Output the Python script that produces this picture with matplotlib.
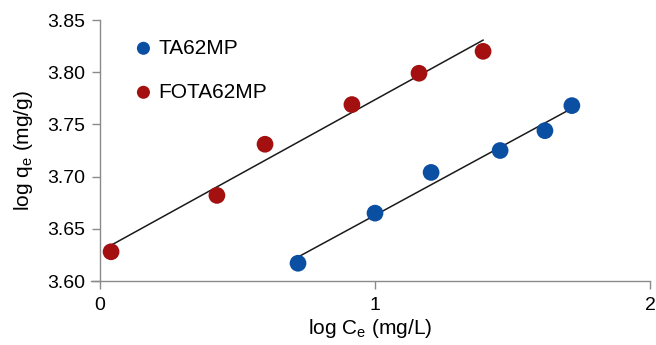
import matplotlib
matplotlib.use("Agg")
import matplotlib.pyplot as plt
import numpy as np

plt.rcParams["font.family"] = ["Liberation Sans", "DejaVu Sans"]

# log Ce (mg/L) and log qe (mg/g)
ta_x = [0.72, 1.00, 1.204, 1.455, 1.618, 1.716]
ta_y = [3.617, 3.665, 3.704, 3.725, 3.744, 3.768]
fota_x = [0.04, 0.425, 0.60, 0.916, 1.16, 1.393]
fota_y = [3.628, 3.682, 3.731, 3.769, 3.799, 3.820]

series = [
    ("TA62MP", ta_x, ta_y, "#0b4fa3"),
    ("FOTA62MP", fota_x, fota_y, "#a3100f"),
]

fig = plt.figure(figsize=(6.56, 3.45), dpi=100)
ax = fig.add_axes([0.1387, 0.1855, 0.8521, 0.7565])

for name, x, y, color in series:
    x = np.asarray(x)
    y = np.asarray(y)
    slope, icpt = np.polyfit(x, y, 1)
    xs = np.array([x.min(), x.max()])
    ax.plot(xs, slope * xs + icpt, color="#1a1a1a", lw=1.1, zorder=2)
    ax.scatter(x, y, s=145, color=color, edgecolors="none", zorder=3, label=name)

ax.set_xlim(-0.033, 2)
ax.set_ylim(3.60, 3.85)
ax.set_xticks([0, 1, 2])
ax.set_yticks([3.60, 3.65, 3.70, 3.75, 3.80, 3.85])
ax.set_yticklabels([f"{v:.2f}" for v in [3.60, 3.65, 3.70, 3.75, 3.80, 3.85]])

for side in ["top", "right"]:
    ax.spines[side].set_visible(False)
ax.spines["left"].set_position(("data", 0))
for side in ["left", "bottom"]:
    ax.spines[side].set_color("#8a8a8a")
    ax.spines[side].set_linewidth(1.0)
ax.tick_params(axis="both", colors="#8a8a8a", labelcolor="black",
               labelsize=14, length=5.5, width=1)
ax.tick_params(axis="x", pad=6)
ax.tick_params(axis="y", pad=5)

ax.set_xlabel(r"log C$_\mathregular{e}$ (mg/L)", fontsize=15, labelpad=2)
ax.set_ylabel(r"log q$_\mathregular{e}$ (mg/g)", fontsize=15, labelpad=9)

ax.legend(loc="upper left", bbox_to_anchor=(0.023, 1.0), frameon=False,
          fontsize=15, handletextpad=-0.3, labelspacing=1.2, scatterpoints=1,
          markerscale=0.78)

fig.savefig("out.png", dpi=100)
